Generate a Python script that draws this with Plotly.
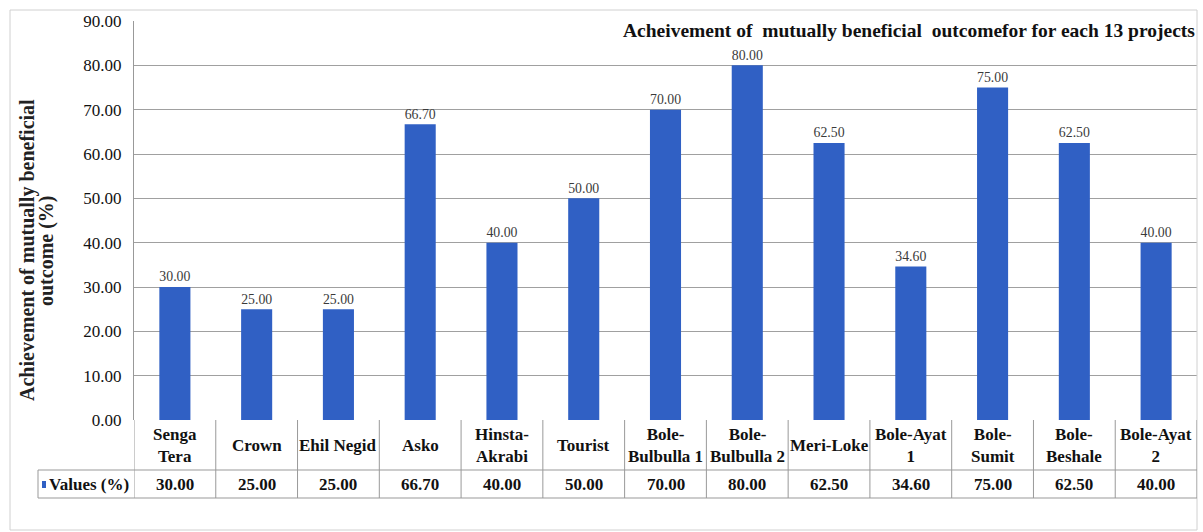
import plotly.graph_objects as go

categories = ["Senga Tera", "Crown", "Ehil Negid", "Asko", "Hinsta-Akrabi", "Tourist",
              "Bole-Bulbulla 1", "Bole-Bulbulla 2", "Meri-Loke", "Bole-Ayat 1",
              "Bole-Sumit", "Bole-Beshale", "Bole-Ayat 2"]
cat_labels = ["Senga<br>Tera", "Crown", "Ehil Negid", "Asko", "Hinsta-<br>Akrabi", "Tourist",
              "Bole-<br>Bulbulla 1", "Bole-<br>Bulbulla 2", "Meri-Loke", "Bole-Ayat<br>1",
              "Bole-<br>Sumit", "Bole-<br>Beshale", "Bole-Ayat<br>2"]
values = [30.00, 25.00, 25.00, 66.70, 40.00, 50.00, 70.00, 80.00, 62.50, 34.60, 75.00, 62.50, 40.00]
series_name = "Values (%)"
y_ticks = [0, 10, 20, 30, 40, 50, 60, 70, 80, 90]
title_text = "Acheivement of  mutually beneficial  outcomefor for each 13 projects"
ytitle_lines = ["Achievement of mutually beneficial", "outcome (%)"]

W, H = 1203, 532
ML, MR, MT, MB = 134, 6, 21, 112
PW = W - ML - MR
PH = H - MT - MB

def px(x):
    return (x - ML) / PW

def py(y):
    return (H - MB - y) / PH

SERIF = "Liberation Serif"
BAR = "#3060C4"
GRID = "#A0A0A0"
LINE = "#999999"
TXT = "#111111"

n = len(categories)
xs = list(range(n))

fig = go.Figure()
fig.add_trace(go.Bar(
    x=xs, y=values, width=0.38, marker=dict(color=BAR, line=dict(width=0)),
    text=[f"{v:.2f}" for v in values], textposition="outside",
    textfont=dict(family=SERIF, size=16, color="#3a3a3a"),
    cliponaxis=False, name=series_name, showlegend=False,
))

shapes = []
# outer chart border
shapes.append(dict(type="rect", xref="paper", yref="paper", x0=px(10), x1=px(1197),
                   y0=py(530), y1=py(10), line=dict(color="#D0D0D0", width=1)))
# table lines
row1_top, row1_bot, row2_bot = 420, 470, 498
for i in range(n + 1):
    shapes.append(dict(type="line", xref="x", yref="paper", x0=i - 0.5, x1=i - 0.5,
                       y0=py(row2_bot), y1=py(row1_top), line=dict(color=LINE, width=1)))
shapes.append(dict(type="line", xref="paper", yref="paper", x0=px(38), x1=1,
                   y0=py(row1_bot), y1=py(row1_bot), line=dict(color=LINE, width=1)))
shapes.append(dict(type="line", xref="paper", yref="paper", x0=px(38), x1=1,
                   y0=py(row2_bot), y1=py(row2_bot), line=dict(color=LINE, width=1)))
shapes.append(dict(type="line", xref="paper", yref="paper", x0=px(38), x1=px(38),
                   y0=py(row2_bot), y1=py(row1_bot), line=dict(color=LINE, width=1)))
# legend key
shapes.append(dict(type="rect", xref="paper", yref="paper", x0=px(42), x1=px(46),
                   y0=py(488), y1=py(481), fillcolor=BAR, line=dict(width=0)))

ann = []
for i in range(n):
    ann.append(dict(x=i, y=py((row1_top + row1_bot) / 2 + 1), xref="x", yref="paper",
                    text=f"<b>{cat_labels[i]}</b>", showarrow=False, yanchor="middle",
                    font=dict(family=SERIF, size=17, color=TXT)))
    ann.append(dict(x=i, y=py((row1_bot + row2_bot) / 2), xref="x", yref="paper",
                    text=f"<b>{values[i]:.2f}</b>", showarrow=False, yanchor="middle",
                    font=dict(family=SERIF, size=17, color=TXT)))
ann.append(dict(x=px(47), y=py((row1_bot + row2_bot) / 2), xref="paper", yref="paper",
                text=f"<b>{series_name}</b>", showarrow=False, xanchor="left", yanchor="middle",
                font=dict(family=SERIF, size=17, color=TXT)))
ann.append(dict(x=px(1197), y=py(30), xref="paper", yref="paper", xanchor="right", yanchor="middle",
                text=f"<b>{title_text}</b>",
                showarrow=False, font=dict(family=SERIF, size=19.5, color=TXT)))
ann.append(dict(x=px(27), y=py(250), xref="paper", yref="paper", xanchor="center", yanchor="middle",
                text=f"<b>{ytitle_lines[0]}</b>", textangle=-90,
                showarrow=False, font=dict(family=SERIF, size=20, color="#222222")))
ann.append(dict(x=px(46), y=py(250), xref="paper", yref="paper", xanchor="center", yanchor="middle",
                text=f"<b>{ytitle_lines[1]}</b>", textangle=-90,
                showarrow=False, font=dict(family=SERIF, size=20, color="#222222")))

fig.update_layout(
    width=W, height=H, margin=dict(l=ML, r=MR, t=MT, b=MB),
    paper_bgcolor="white", plot_bgcolor="white",
    font=dict(family=SERIF, size=16, color=TXT),
    xaxis=dict(range=[-0.5, n - 0.5], showticklabels=False, showgrid=False, zeroline=False,
               showline=False, ticks=""),
    yaxis=dict(range=[0, 90], tickvals=y_ticks, tickformat=".2f", showgrid=True,
               gridcolor=GRID, gridwidth=1, zeroline=False, showline=True, linecolor=LINE,
               ticks="", tickfont=dict(family=SERIF, size=17, color=TXT),
               ticklabelstandoff=8, tickprefix="<b>", ticksuffix="</b>"),
    shapes=shapes, annotations=ann,
)
fig.write_html("out.html")
